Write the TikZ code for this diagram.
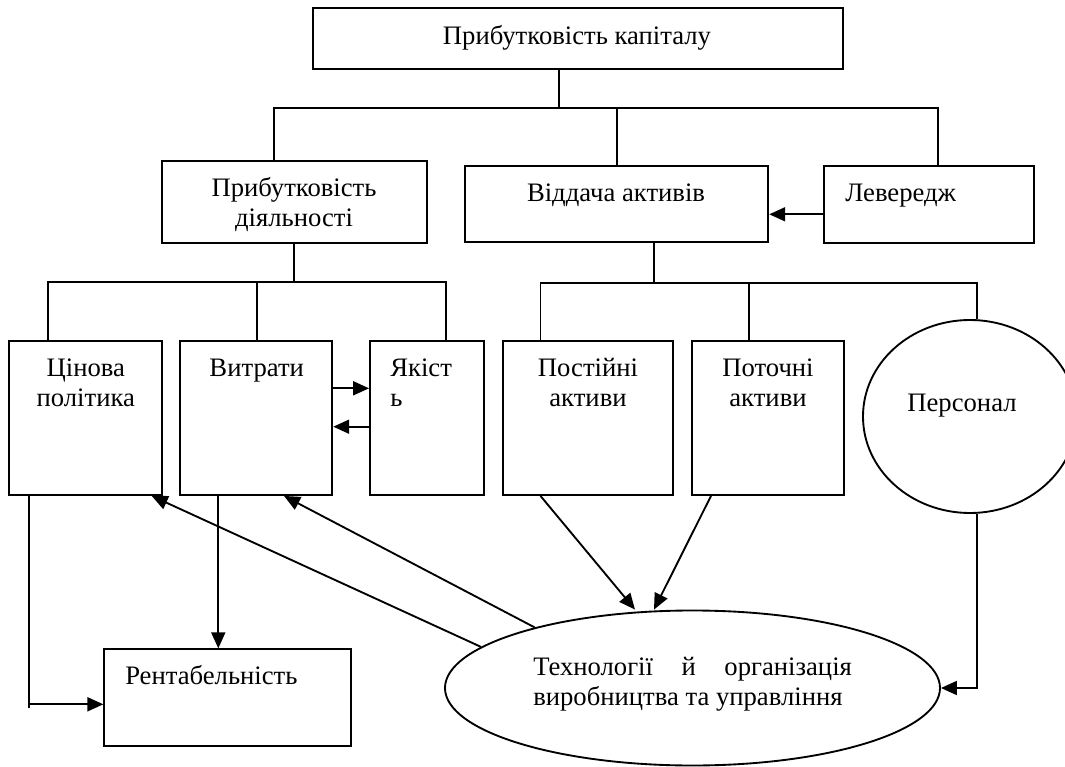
\documentclass[tikz,border=0pt]{standalone}
\usepackage{fontspec}
\setmainfont{Liberation Serif}
\usetikzlibrary{arrows.meta,fit,shapes.geometric,calc}
\begin{document}
\begin{tikzpicture}[x=0.75pt,y=-0.75pt,
  box/.style={draw, line width=1.4pt, inner sep=0pt, rectangle},
  oval/.style={draw, line width=1.4pt, inner sep=0pt, ellipse},
  txt/.style={font=\fontsize{20pt}{22.5pt}\selectfont, inner sep=0pt},
  ln/.style={line width=1.4pt},
  arr/.style={line width=1.4pt, -{Triangle[length=12pt,width=10.5pt]}}]
\useasboundingbox (0,0) rectangle (1065,767);

% boxes
\node[box, fit={(312.7,8)(843.3,69)}] (top) {};
\node[txt, anchor=base] (ttop) at (577,45) {Прибутковість капіталу};

\node[box, fit={(161.7,161)(426.7,243.3)}] (pd) {};
\node[txt, anchor=base, align=center] (tpd) at (294,226.7) {Прибутковість\\діяльності};

\node[box, fit={(465,166)(768.3,242.3)}] (vid) {};
\node[txt, anchor=base] (tvid) at (616,201.7) {Віддача активів};

\node[box, fit={(824.3,166)(1034,243.3)}] (lev) {};
\node[txt, anchor=base west] (tlev) at (845,201.7) {Левередж};

\node[box, fit={(9.3,340.7)(162,495)}] (cin) {};
\node[txt, anchor=base, align=center] (tcin) at (85.8,406.7) {Цінова\\політика};

\node[box, fit={(180.3,340.7)(332.3,495)}] (vyt) {};
\node[txt, anchor=base] (tvyt) at (256.7,376.7) {Витрати};

\node[box, fit={(370,340.7)(484,495)}] (yak) {};
\node[txt, anchor=base west, align=left] (tyak) at (390,406.7) {Якіст\\ь};

\node[box, fit={(502.7,340.7)(673.3,495)}] (post) {};
\node[txt, anchor=base, align=center] (tpost) at (588,406.7) {Постійні\\активи};

\node[box, fit={(692,340.7)(844,495)}] (potoch) {};
\node[txt, anchor=base, align=center] (tpotoch) at (768,406.7) {Поточні\\активи};

\node[oval, minimum width=160.5pt, minimum height=144.75pt] (pers) at (970,416.5) {};
\node[txt, anchor=base] (tpers) at (962,411) {Персонал};

\node[box, fit={(104.3,649.3)(351,745.7)}] (rent) {};
\node[txt, anchor=base west] (trent) at (125,684) {Рентабельність};

\node[oval, minimum width=371.25pt, minimum height=116.25pt] (tech) at (692.5,688) {};
\node[txt, anchor=base west, text width=239pt, align=justify] (ttech) at (533,675)
  {Технології й організація\linebreak виробництва та управління};

% bus lines
\coordinate (b0) at (559.3,107.7);
\coordinate (bL) at (274,107.7);
\coordinate (bM) at (616.7,107.7);
\coordinate (bR) at (938.3,107.7);
\draw[ln] (top.south -| b0) -- (b0);
\draw[ln] (pd.north -| bL) -- (bL) -- (bR) -- (lev.north -| bR);
\draw[ln] (bM) -- (vid.north -| bM);

\coordinate (c0) at (294,282.3);
\coordinate (cL) at (47.7,282.3);
\coordinate (cM) at (256.7,282.3);
\coordinate (cR) at (445.7,282.3);
\draw[ln] (pd.south -| c0) -- (c0);
\draw[ln] (cin.north -| cL) -- (cL) -- (cR) -- (yak.north -| cR);
\draw[ln] (cM) -- (vyt.north -| cM);

\coordinate (d0) at (654,282.6);
\coordinate (dL) at (540.5,282.6);
\coordinate (dM) at (749,282.6);
\coordinate (dR) at (977,282.6);
\draw[ln] (vid.south -| d0) -- (d0);
\draw[ln] (post.north -| dL) -- (dL) -- (dR) -- (pers.north -| dR);
\draw[ln] (dM) -- (potoch.north -| dM);

% arrows
\coordinate (y1) at (0,214.3);
\draw[arr] (lev.west |- y1) -- (vid.east |- y1);
\coordinate (y2) at (0,388.3);
\draw[arr] (vyt.east |- y2) -- (yak.west |- y2);
\coordinate (y3) at (0,426.7);
\draw[arr] (yak.west |- y3) -- (vyt.east |- y3);

\coordinate (e1) at (29,704.3);
\draw[arr] (cin.south -| e1) |- (rent.west |- e1);
\draw[ln] (e1) -- ++(0,4);
\coordinate (e2) at (218.3,0);
\draw[arr] (vyt.south -| e2) -- (rent.north -| e2);

\coordinate (t1) at (151.7,0);
\coordinate (t2) at (284,0);
\draw[arr] (tech.169.5) -- (cin.south -| t1);
\draw[arr] (tech.159) -- (vyt.south -| t2);

\coordinate (s1) at (540.5,0);
\coordinate (s2) at (635,0);
\coordinate (s3) at (711,0);
\coordinate (s4) at (654,0);
\draw[arr] (post.south -| s1) -- (tech.north -| s2);
\draw[arr] (potoch.south -| s3) -- (tech.north -| s4);

\draw[arr] (pers.south -| dR) |- (tech.east);
\end{tikzpicture}
\end{document}
